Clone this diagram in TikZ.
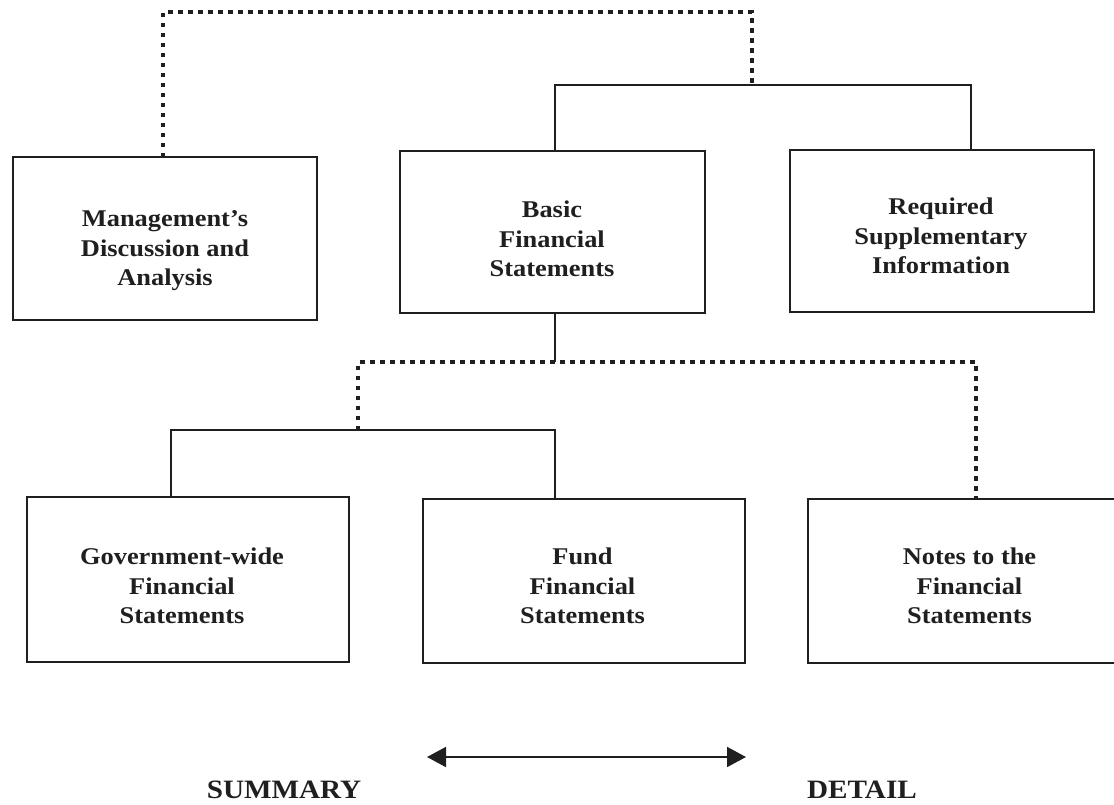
\documentclass[tikz,border=0pt]{standalone}
\usepackage{fontspec}
\newfontfamily\figfont{Liberation Serif}[FakeStretch=1.1]
\usetikzlibrary{arrows.meta}
\tikzset{bigtri/.tip={Triangle[length=19pt,width=20pt]}}
\begin{document}
\begin{tikzpicture}[x=1pt,y=-1pt,
  box/.style={draw=black!88, line width=2pt, inner sep=0pt, outer sep=0pt, anchor=north west, rectangle},
  txt/.style={anchor=north, inner sep=0pt, align=center, text=black!88,
    font=\figfont\bfseries\fontsize{24}{29.5}\selectfont},
  lbl/.style={anchor=base, inner sep=0pt, text=black!88,
    font=\figfont\bfseries\fontsize{26.5}{30}\selectfont},
  conn/.style={draw=black!88, line width=1.8pt},
  dots/.style={draw=black!88, line width=4.5pt, dash pattern=on 4.5pt off 5.5pt}
]
\useasboundingbox (0,0) rectangle (1114,804);
\begin{scope}
\clip (0,0) rectangle (1114,804);

% boxes
\node[box, minimum width=304pt, minimum height=163pt] (mda)   at (13,157)  {};
\node[box, minimum width=305pt, minimum height=162pt] (basic) at (400,151) {};
\node[box, minimum width=304pt, minimum height=162pt] (req)   at (790,150) {};
\node[box, minimum width=322pt, minimum height=165pt] (gov)   at (27,497)  {};
\node[box, minimum width=322pt, minimum height=164pt] (fund)  at (423,499) {};
\node[box, minimum width=314pt, minimum height=164pt] (notes) at (808,499) {};

% box texts (first baseline minus ascent)
\node[txt] (mdat)   at (165,210.7)   {Management’s\\Discussion and\\Analysis};
\node[txt] (basict) at (552,200.7)   {Basic\\Financial\\Statements};
\node[txt] (reqt)   at (941,197.7)   {Required\\Supplementary\\Information};
\node[txt] (govt)   at (182,547.7)   {Government-wide\\Financial\\Statements};
\node[txt] (fundt)  at (582.5,547.7) {Fund\\Financial\\Statements};
\node[txt] (notest) at (969.5,547.7) {Notes to the\\Financial\\Statements};

% top connectors
\coordinate (tj)   at (752,85);
\coordinate (dtop) at (752,12);
\coordinate (mdn)  at ([xshift=-2pt]mda.north);
\coordinate (bn)   at ([xshift=2.5pt]basic.north);
\coordinate (rq)   at ([xshift=29pt]req.north);
\draw[dots] (mdn) |- (dtop) -- (tj);
\draw[conn] (bn) |- (rq |- tj) -- (rq);

% lower connectors
\coordinate (lj) at (358,430);
\coordinate (dl) at (358,362);
\coordinate (bs) at ([xshift=2.5pt]basic.south);
\coordinate (nt) at (976,499);
\coordinate (gn) at ([xshift=-17pt]gov.north);
\coordinate (fn) at ([xshift=-29pt]fund.north);
\draw[conn] (bs) -- (bs |- dl);
\draw[dots] (lj) -- (dl) -| (nt);
\draw[conn] (gn) |- (lj) -| (fn);

% summary / detail arrow
\coordinate (al) at (427,757);
\coordinate (ar) at (746,757);
\draw[conn, bigtri-bigtri] (al) -- (ar);
\node[lbl] (summary) at (284,798) {SUMMARY};
\node[lbl] (detail)  at (862,798) {DETAIL};
\end{scope}
\end{tikzpicture}
\end{document}
